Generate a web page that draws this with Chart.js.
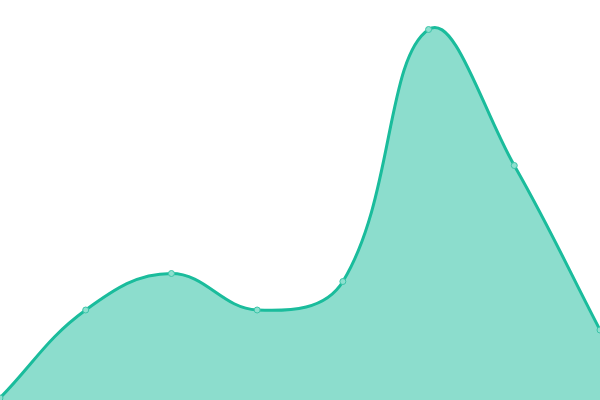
<!DOCTYPE html>
<html><head><meta charset="utf-8">
<script src="https://cdn.jsdelivr.net/npm/chart.js@4"></script>
<style>html,body{margin:0;padding:0;background:#fff}#wrap{width:600px;height:400px}</style>
</head><body><div id="wrap"><canvas id="c"></canvas></div>
<script>
const categories = ["1","2","3","4","5","6","7","8"];
const values = [2, 90, 126.5, 90, 118.5, 370.5, 234.5, 70];
new Chart(document.getElementById('c'), {
  type: 'line',
  data: { labels: categories, datasets: [{
    data: values,
    borderColor: '#1abc9c',
    backgroundColor: 'rgba(26,188,156,0.5)',
    pointBackgroundColor: '#8de0cf',
    pointBorderColor: '#3cc4a8',
    pointRadius: 3,
    pointBorderWidth: 1,
    borderWidth: 3,
    fill: true,
    tension: 0.4
  }]},
  options: {
    responsive: true, maintainAspectRatio: false, animation: false,
    layout: { padding: 0, autoPadding: false },
    plugins: { legend: { display: false }, tooltip: { enabled: false } },
    scales: {
      x: { display: false },
      y: { display: false, min: 0, max: 400 }
    }
  }
});
</script></body></html>
